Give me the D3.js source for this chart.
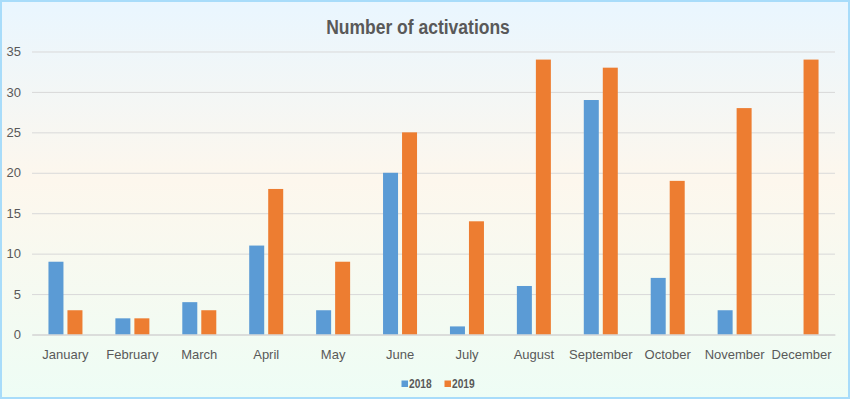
<!DOCTYPE html>
<html>
<head>
<meta charset="utf-8">
<script src="https://cdn.jsdelivr.net/npm/d3@7"></script>
<style>
  html, body { margin: 0; padding: 0; background: #fff; }
  svg { display: block; }
</style>
</head>
<body>
<div id="chart"></div>
<script>
// data
var months = ["January", "February", "March", "April", "May", "June",
  "July", "August", "September", "October", "November", "December"];
var series = ["2018", "2019"];
var values2018 = [9, 2, 4, 11, 3, 20, 1, 6, 29, 7, 3, 0];
var values2019 = [3, 2, 3, 18, 9, 25, 14, 34, 33, 19, 28, 34];
var yTicks = [0, 5, 10, 15, 20, 25, 30, 35];
var colors = ["#5b9bd5", "#ed7d31"];

var width = 850;
var height = 399;
var plot = { left: 32, right: 835, top: 51.5, bottom: 334.5 };

var svg = d3.select("#chart")
  .append("svg")
  .attr("width", width)
  .attr("height", height);

var defs = svg.append("defs");
var grad = defs.append("linearGradient")
  .attr("id", "bg")
  .attr("x1", 0).attr("y1", 0).attr("x2", 0).attr("y2", 1);
grad.append("stop").attr("offset", "0%").attr("stop-color", "#e9f6ff");
grad.append("stop").attr("offset", "45%").attr("stop-color", "#fdf7ed");
grad.append("stop").attr("offset", "100%").attr("stop-color", "#eefdf5");

svg.append("rect")
  .attr("x", 1).attr("y", 1)
  .attr("width", width - 2).attr("height", height - 2)
  .attr("fill", "url(#bg)")
  .attr("stroke", "#a8dcfa")
  .attr("stroke-width", 2);

var x0 = d3.scaleBand()
  .domain(months)
  .range([plot.left, plot.right])
  .paddingInner(0.492)
  .paddingOuter(0.246);

var x1 = d3.scaleBand()
  .domain(series)
  .range([0, x0.bandwidth()])
  .paddingInner(0.2105);

var y = d3.scaleLinear()
  .domain([0, 35])
  .range([plot.bottom, plot.top]);

// gridlines + y labels
var yAxis = svg.append("g")
  .attr("transform", "translate(" + plot.left + ",0)")
  .call(d3.axisLeft(y)
    .tickValues(yTicks)
    .tickSize(-(plot.right - plot.left))
    .tickPadding(11));
yAxis.select(".domain").remove();
yAxis.selectAll(".tick line")
  .attr("stroke", "#d9d9d9")
  .attr("stroke-width", 1);
yAxis.selectAll(".tick text")
  .attr("fill", "#595959")
  .style("font-family", "'Liberation Sans', Arial, sans-serif")
  .style("font-size", "13px");

// bars
var rows = months.map(function(m, i) {
  return { month: m, vals: [values2018[i], values2019[i]] };
});

var groups = svg.append("g")
  .selectAll("g")
  .data(rows)
  .enter()
  .append("g")
  .attr("transform", function(d) { return "translate(" + x0(d.month) + ",0)"; });

groups.selectAll("rect")
  .data(function(d) {
    return d.vals.map(function(v, i) { return { key: series[i], value: v, i: i }; });
  })
  .enter()
  .append("rect")
  .attr("x", function(d) { return x1(d.key); })
  .attr("y", function(d) { return y(d.value); })
  .attr("width", x1.bandwidth())
  .attr("height", function(d) { return y(0) - y(d.value); })
  .attr("fill", function(d) { return colors[d.i]; });

// x axis
var xAxis = svg.append("g")
  .attr("transform", "translate(0," + plot.bottom + ")")
  .call(d3.axisBottom(x0).tickSize(0).tickPadding(15));
xAxis.select(".domain")
  .attr("stroke", "#d0d0d0");
xAxis.selectAll(".tick text")
  .attr("fill", "#595959")
  .style("font-family", "'Liberation Sans', Arial, sans-serif")
  .style("font-size", "13px");

// title (narrow bold, squeezed horizontally since no narrow font is installed)
svg.append("text")
  .attr("transform", "translate(418,34) scale(0.875,1)")
  .attr("text-anchor", "middle")
  .attr("fill", "#595959")
  .style("font-family", "'Liberation Sans', Arial, sans-serif")
  .style("font-weight", "bold")
  .style("font-size", "20px")
  .text("Number of activations");

// legend
var legend = svg.append("g")
  .selectAll("g")
  .data(series)
  .enter()
  .append("g")
  .attr("transform", function(d, i) { return "translate(" + (401.5 + i * 43) + ",380.5)"; });

legend.append("rect")
  .attr("width", 6.5)
  .attr("height", 6.5)
  .attr("fill", function(d, i) { return colors[i]; });

legend.append("text")
  .attr("transform", "translate(7.5,7) scale(0.85,1)")
  .attr("fill", "#595959")
  .style("font-family", "'Liberation Sans', Arial, sans-serif")
  .style("font-weight", "bold")
  .style("font-size", "12px")
  .text(function(d) { return d; });
</script>
</body>
</html>
